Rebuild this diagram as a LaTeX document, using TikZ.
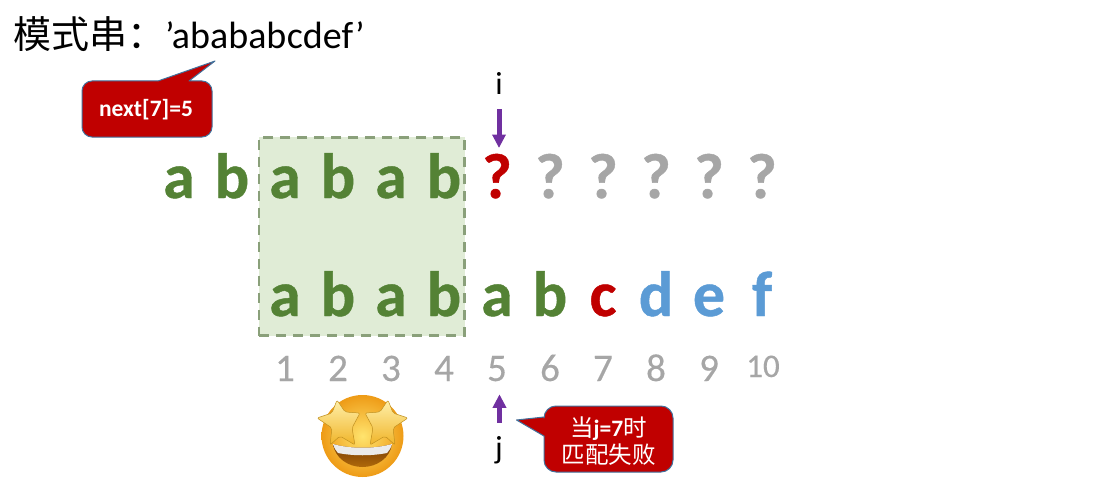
\documentclass[tikz,border=0pt]{standalone}
\usepackage{fontspec}
\setmainfont{Carlito}
\newfontfamily\cjk{Noto Sans CJK SC}
\newfontfamily\chfont[BoldFeatures={FakeBold=0.7}]{Carlito}
\newfontfamily\numfont[FakeBold=0.35]{Carlito}
\usetikzlibrary{arrows.meta}
\definecolor{grn}{RGB}{84,130,53}
\definecolor{redd}{RGB}{192,0,0}
\definecolor{blu}{RGB}{91,155,213}
\definecolor{gry}{RGB}{166,166,166}
\definecolor{pur}{RGB}{112,48,160}
\definecolor{boxf}{RGB}{224,236,214}
\definecolor{boxl}{RGB}{138,160,122}
\definecolor{calll}{RGB}{65,113,156}
\definecolor{faceA}{RGB}{255,228,110}
\definecolor{faceB}{RGB}{238,155,22}
\definecolor{starA}{RGB}{255,240,170}
\definecolor{starB}{RGB}{240,180,40}
\definecolor{mouthA}{RGB}{120,60,5}
\definecolor{mouthB}{RGB}{175,105,10}
\tikzset{
 x=1pt,y=-1pt,
 ch/.style={inner sep=0pt,anchor=base,font=\fontsize{64}{64}\selectfont\chfont\bfseries},
 num/.style={inner sep=0pt,anchor=base,text=gry,font=\fontsize{39}{39}\selectfont\numfont},
 lab/.style={inner sep=0pt,anchor=base,font=\fontsize{32}{32}\selectfont},
 call/.style={fill=redd,draw=calll,line width=1pt,line join=round},
 calltxt/.style={inner sep=0pt,text=white,align=center,font=\fontsize{23.5}{27}\selectfont\bfseries},
 arr/.style={draw=pur,line width=5pt,-{Triangle[width=13pt,length=13.5pt,fill=pur]}},
 eyestar/.style={rounded corners=2pt,draw=starB!80!black,line width=.5pt,top color=starA,bottom color=starB},
}
\begin{document}
\begin{tikzpicture}
\useasboundingbox (0,0) rectangle (1120,487);
\node[inner sep=0pt,anchor=base west,font=\fontsize{38}{38}\selectfont] (title) at (13,49) {{\cjk 模式串：}’ababab\kern.5pt cdef’};
% box
\node[draw=boxl,fill=boxf,dash pattern=on 10pt off 7pt,line width=2.5pt,outer sep=0pt,minimum width=205.5pt,minimum height=198.4pt,inner sep=0pt,anchor=north west] (win) at (259,137.3) {};
% top row
\foreach \n/\x/\t/\c in {t1/179/a/grn,t2/232/b/grn,t3/285/a/grn,t4/338/b/grn,t5/391/a/grn,t6/444/b/grn,t7/497/?/redd,t8/550/?/gry,t9/603/?/gry,t10/656/?/gry,t11/709/?/gry,t12/762/?/gry}
  \node[ch,text=\c] (\n) at (\x,198) {\t};
% bottom row
\foreach \n/\x/\t/\c in {b1/285/a/grn,b2/338/b/grn,b3/391/a/grn,b4/444/b/grn,b5/497/a/grn,b6/550/b/grn,b7/603/c/redd,b8/656/d/blu,b9/709/e/blu,b10/762/f/blu}
  \node[ch,text=\c] (\n) at (\x,316) {\t};
% numbers
\foreach \n/\x/\t in {n1/285/1,n2/338/2,n3/391/3,n4/444/4,n5/497/5,n6/550/6,n7/603/7,n8/656/8,n9/709/9}
  \node[num] (\n) at (\x,381) {\t};
\node[num,font=\fontsize{33}{33}\selectfont\numfont] (n10) at (763,377) {10};
% pointers
\node[lab] (i) at (499,95) {i};
\node[lab] (j) at (499,458) {j};
\coordinate (ifrom) at (499,109.3);
\coordinate (ito) at (499,148);
\coordinate (jfrom) at (499.5,422.7);
\coordinate (jto) at (499.5,394.3);
\draw[arr] (ifrom) -- (ito);
\draw[arr] (jfrom) -- (jto);
% callouts
\draw[call] (92,81) -- (158,81) -- (215,61) -- (189,81) -- (202,81)
  arc[start angle=-90,end angle=0,radius=10] -- (212,127)
  arc[start angle=0,end angle=90,radius=10] -- (92,137)
  arc[start angle=90,end angle=180,radius=10] -- (82,91)
  arc[start angle=180,end angle=270,radius=10] -- cycle;
\node[calltxt] (c1) at (146,110) {next[7]=5};
\draw[call] (556,406) -- (661,406) arc[start angle=-90,end angle=0,radius=12] -- (673,460)
  arc[start angle=0,end angle=90,radius=12] -- (556,472)
  arc[start angle=90,end angle=180,radius=12] -- (544,436) -- (516.5,420) -- (544,417)
  -- (544,418) arc[start angle=180,end angle=270,radius=12] -- cycle;
\node[calltxt] (c2) at (608.5,441) {{\cjk\mdseries 当}j=7{\cjk\mdseries 时}\\{\cjk\mdseries 匹配失败}};
% emoji
\shade[inner color=faceA,outer color=faceB] (362.5,436) circle[radius=41];
\shade[top color=mouthA,bottom color=mouthB] (333,444) .. controls (350,449) and (375,449) .. (392,444) .. controls (390,458) and (377,467) .. (362.5,467) .. controls (348,467) and (335,458) .. (333,444) -- cycle;
\fill[white!92!black] (333,444) .. controls (350,449) and (375,449) .. (392,444) .. controls (391,448) and (389,451) .. (387,453) .. controls (372,456) and (353,456) .. (338,453) .. controls (336,451) and (334,448) .. (333,444) -- cycle;
\path[eyestar] (337,400) -- (345,412) -- (360,413) -- (352,428) -- (355,445) -- (340,436) -- (330,445) -- (332,428) -- (317,418) -- (332,413) -- cycle;
\path[eyestar] (388,400) -- (380,412) -- (365,413) -- (373,428) -- (370,445) -- (385,436) -- (395,445) -- (393,428) -- (408,418) -- (393,413) -- cycle;
\end{tikzpicture}
\end{document}
